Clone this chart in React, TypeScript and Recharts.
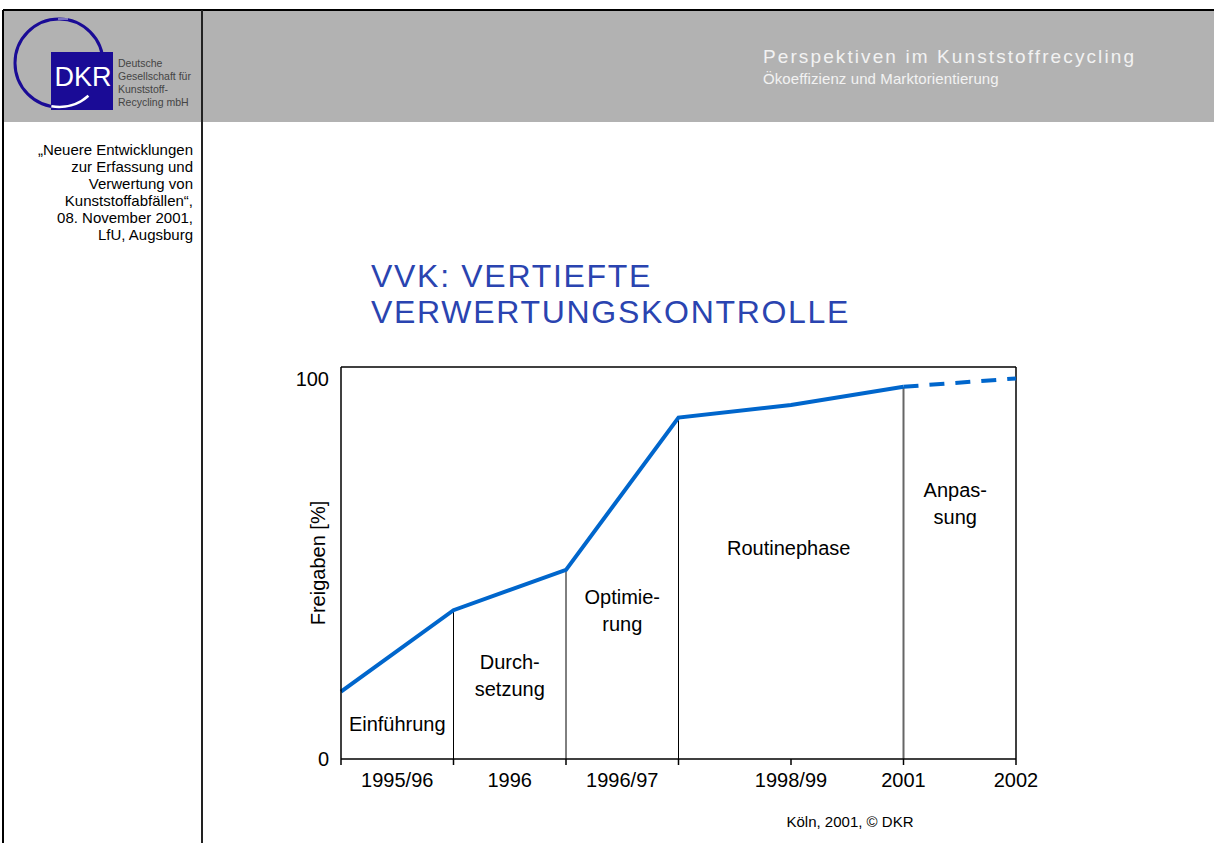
import React from "react";
import {
  LineChart,
  Line,
  XAxis,
  YAxis,
  ReferenceLine,
  ReferenceDot,
} from "recharts";

// Zeitachse: 0..6 = Phasengrenzen
const periods = [0, 1, 2, 3, 4, 5, 6];
const freigaben = [17.7, 39.1, 49.7, 89.7, 93, 97.8, 100];
const lastActual = 5; // ab hier gestrichelt (Prognose)

const tickPositions = [0.5, 1.5, 2.5, 4, 5, 6];
const tickTexts = ["1995/96", "1996", "1996/97", "1998/99", "2001", "2002"];

const phaseNames = [
  ["Einführung"],
  ["Durch-", "setzung"],
  ["Optimie-", "rung"],
  ["Routinephase"],
  ["Anpas-", "sung"],
];
const dividers = [1, 2, 3, 5];

// where the phase names sit, in axis units
const phaseSpots = [
  { x: 0.5, y: 9.2 },
  { x: 1.5, y: 25.5 },
  { x: 2.5, y: 42.6 },
  { x: 3.98, y: 55.4 },
  { x: 5.46, y: 70.7 },
];

const sidebar = [
  "„Neuere Entwicklungen",
  "zur Erfassung und",
  "Verwertung von",
  "Kunststoffabfällen“,",
  "08. November 2001,",
  "LfU, Augsburg",
];
const logoLines = ["Deutsche", "Gesellschaft für", "Kunststoff-", "Recycling mbH"];

const data = periods.map((p, i) => ({
  p,
  ist: i <= lastActual ? freigaben[i] : null,
  plan: i >= lastActual ? freigaben[i] : null,
}));

const FONT = "Arial, 'Liberation Sans', Helvetica, sans-serif";
const BLUE = "#0066cc";
const Y_MAX = 103;

const allTicks = Array.from(new Set([...periods, ...tickPositions])).sort((a, b) => a - b);

const XTick = (props: any) => {
  const { x, y, payload } = props;
  const v = payload.value;
  const idx = tickPositions.indexOf(v);
  return (
    <g>
      {Number.isInteger(v) && (
        <line x1={x} x2={x} y1={y} y2={y + 6} stroke="#000" strokeWidth={1.5} />
      )}
      {idx >= 0 && (
        <text x={x} y={y + 28} textAnchor="middle" fontSize={20} fill="#000" fontFamily={FONT}>
          {tickTexts[idx]}
        </text>
      )}
    </g>
  );
};

const YLabel = (props: any) => {
  const vb = props.viewBox;
  const cx = vb.x + 44;
  const cy = vb.y + vb.height / 2;
  return (
    <text
      x={cx}
      y={cy}
      transform={`rotate(-90 ${cx} ${cy})`}
      textAnchor="middle"
      fontSize={20}
      fill="#000"
      fontFamily={FONT}
    >
      Freigaben [%]
    </text>
  );
};

const phaseLabel = (lines: string[]) => (props: any) => {
  const vb = props.viewBox;
  const cx = vb.x + (vb.width || 0) / 2;
  return (
    <text x={cx} y={vb.y + 7} textAnchor="middle" fontSize={20} fill="#000" fontFamily={FONT}>
      {lines.map((l, i) => (
        <tspan key={i} x={cx} dy={i === 0 ? 0 : 27}>
          {l}
        </tspan>
      ))}
    </text>
  );
};

function Slide() {
  return (
    <svg
      width={1214}
      height={843}
      style={{ position: "absolute", left: 0, top: 0 }}
      fontFamily={FONT}
    >
      <rect x={3} y={10} width={1211} height={112} fill="#b2b2b2" />
      <line x1={3} x2={1214} y1={10} y2={10} stroke="#000" strokeWidth={2} />
      <line x1={3} x2={3} y1={10} y2={843} stroke="#000" strokeWidth={2} />
      <line x1={202} x2={202} y1={10} y2={843} stroke="#222" strokeWidth={2} />

      {/* Logo */}
      <circle cx={59} cy={63} r={44} fill="none" stroke="#1a0b96" strokeWidth={3} />
      <line x1={58} x2={68} y1={19} y2={19} stroke="#d8d8ee" strokeWidth={1} />
      <rect x={51} y={52} width={62} height={58} fill="#1a0b96" />
      <path
        d={`M ${59 + 44 * Math.cos((100 * Math.PI) / 180)} ${63 + 44 * Math.sin((100 * Math.PI) / 180)} A 44 44 0 0 0 ${59 + 44 * Math.cos((48 * Math.PI) / 180)} ${63 + 44 * Math.sin((48 * Math.PI) / 180)}`}
        fill="none"
        stroke="#fff"
        strokeWidth={2.5}
      />
      <text x={83} y={86} textAnchor="middle" fontSize={27} fill="#fff">
        DKR
      </text>
      {logoLines.map((l, i) => (
        <text key={l} x={118} y={67 + i * 13} fontSize={10.5} fill="#444">
          {l}
        </text>
      ))}

      <text x={763} y={63} fontSize={19} fill="#f2f2f2" letterSpacing={2.1}>
        Perspektiven im Kunststoffrecycling
      </text>
      <text x={763} y={84} fontSize={15} fill="#f2f2f2" letterSpacing={0.1}>
        Ökoeffizienz und Marktorientierung
      </text>

      {sidebar.map((l, i) => (
        <text key={i} x={193} y={155 + i * 17} textAnchor="end" fontSize={15} fill="#000">
          {l}
        </text>
      ))}

      <text x={371} y={287} fontSize={32} fill="#2a44b0" letterSpacing={1.7}>
        VVK: VERTIEFTE
      </text>
      <text x={371} y={323} fontSize={32} fill="#2a44b0" letterSpacing={1.7}>
        VERWERTUNGSKONTROLLE
      </text>

      <text x={850} y={827} textAnchor="middle" fontSize={15} fill="#000">
        Köln, 2001, © DKR
      </text>
    </svg>
  );
}

export default function App() {
  return (
    <div style={{ position: "absolute", left: 0, top: 0, width: 1214, height: 843, background: "#fff", fontFamily: FONT }}>
      <Slide />
      <div style={{ position: "absolute", left: 240, top: 340 }}>
        <LineChart
          width={840}
          height={480}
          data={data}
          margin={{ top: 27, right: 64, bottom: 21, left: 41 }}
        >
          <XAxis
            dataKey="p"
            type="number"
            domain={[0, 6]}
            ticks={allTicks}
            interval={0}
            tickSize={0}
            tickMargin={0}
            tickLine={false}
            tick={<XTick />}
            height={40}
            axisLine={{ stroke: "#000", strokeWidth: 1.5 }}
          />
          <YAxis
            type="number"
            domain={[0, Y_MAX]}
            ticks={[0, 100]}
            tickLine={false}
            tickSize={0}
            tickMargin={12}
            width={60}
            tick={{ fontSize: 20, fill: "#000", fontFamily: FONT }}
            axisLine={{ stroke: "#000", strokeWidth: 1.5 }}
            label={<YLabel />}
          />
          <ReferenceLine y={Y_MAX} stroke="#000" strokeWidth={1.5} />
          <ReferenceLine x={6} stroke="#000" strokeWidth={1.5} />
          {dividers.map((d) => (
            <ReferenceLine
              key={d}
              segment={[
                { x: d, y: 0 },
                { x: d, y: freigaben[d] },
              ]}
              stroke={d === lastActual ? "#666" : "#000"}
              strokeWidth={d === lastActual ? 2 : 1}
            />
          ))}
          {phaseSpots.map((s, i) => (
            <ReferenceDot
              key={i}
              x={s.x}
              y={s.y}
              r={0}
              fill="none"
              stroke="none"
              label={phaseLabel(phaseNames[i])}
            />
          ))}
          <Line
            type="linear"
            dataKey="ist"
            stroke={BLUE}
            strokeWidth={4}
            dot={false}
            connectNulls={false}
            isAnimationActive={false}
          />
          <Line
            type="linear"
            dataKey="plan"
            stroke={BLUE}
            strokeWidth={4}
            strokeDasharray="15 11"
            dot={false}
            connectNulls={false}
            isAnimationActive={false}
          />
        </LineChart>
      </div>
    </div>
  );
}
